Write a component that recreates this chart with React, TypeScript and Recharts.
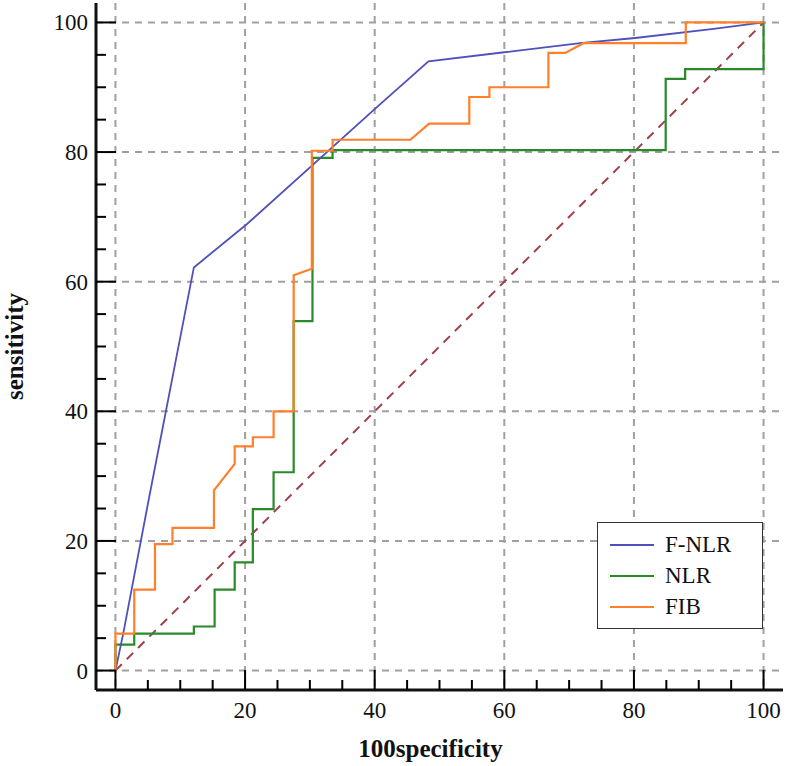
import React from "react";
import { LineChart, Line, XAxis, YAxis, CartesianGrid, Legend } from "recharts";

// ROC curves, [100-specificity, sensitivity]
const fnlrPoints = [
  [0, 0], [1.2, 5.7], [5.1, 26.2], [12.1, 62.2], [20.3, 68.9], [40.3, 86.9],
  [48.3, 94], [60, 95.4], [71.7, 96.8], [80.2, 97.6], [92.3, 99], [100, 100],
];

const nlrPoints = [
  [0, 0], [0, 4], [2.9, 4], [2.9, 5.7], [12.1, 5.7], [12.1, 6.8], [15.3, 6.8],
  [15.3, 12.5], [18.4, 12.5], [18.4, 16.7], [21.2, 16.7], [21.2, 24.9], [24.4, 24.9],
  [24.4, 30.6], [27.5, 30.6], [27.5, 53.9], [30.4, 53.9], [30.4, 79.1], [33.5, 79.1],
  [33.5, 80.3], [84.9, 80.3], [84.9, 91.3], [87.9, 91.3], [87.9, 92.8], [100, 92.8],
  [100, 100],
];

const fibPoints = [
  [0, 0], [0, 5.7], [2.9, 5.7], [2.9, 12.5], [6.1, 12.5], [6.1, 19.5], [8.8, 19.5],
  [8.8, 22], [15.2, 22], [15.2, 27.8], [18.4, 31.9], [18.4, 34.6], [21.2, 34.6],
  [21.2, 36], [24.4, 36], [24.4, 40], [27.5, 40], [27.5, 61], [30.3, 62], [30.3, 80.2],
  [33.5, 80.2], [33.5, 81.9], [45.5, 81.9], [48.4, 84.4], [54.6, 84.4], [54.6, 88.5],
  [57.7, 88.5], [57.7, 90], [66.8, 90], [66.8, 95.3], [69.4, 95.3], [72.2, 96.8],
  [88, 96.8], [88, 100], [100, 100],
];

const chancePoints = [[0, 0], [100, 100]];

const axisTicks = [0, 5, 10, 15, 20, 25, 30, 35, 40, 45, 50, 55, 60, 65, 70, 75, 80, 85, 90, 95, 100];
const gridValues = [0, 20, 40, 60, 80, 100];

const SERIF = '"Liberation Serif", "Times New Roman", serif';
const TICK_COLOR = "#000";

const toRows = (pts: number[][]) => pts.map(([x, y]) => ({ x, y }));

const legendItems = [
  { name: "F-NLR", color: "#5050bd" },
  { name: "NLR", color: "#2a8a2a" },
  { name: "FIB", color: "#ff7f2a" },
];

// ticks point into the plot: long ones carry a label, short ones every 5
function XTick(props: any) {
  const { x, y, payload } = props;
  const major = payload.value % 20 === 0;
  return (
    <g>
      <line x1={x} y1={y} x2={x} y2={y - (major ? 20 : 10)} stroke={TICK_COLOR} strokeWidth={2} />
      {major && (
        <text x={x} y={y + 28} textAnchor="middle" fontFamily={SERIF} fontSize={23} fill="#111">
          {payload.value}
        </text>
      )}
    </g>
  );
}

function YTick(props: any) {
  const { x, y, payload } = props;
  const major = payload.value % 20 === 0;
  return (
    <g>
      <line x1={x} y1={y} x2={x + (major ? 20 : 10)} y2={y} stroke={TICK_COLOR} strokeWidth={2} />
      {major && (
        <text x={x - 8} y={y + 8} textAnchor="end" fontFamily={SERIF} fontSize={23} fill="#111">
          {payload.value}
        </text>
      )}
    </g>
  );
}

function RocLegend() {
  return (
    <div
      style={{
        width: 166, height: 107, boxSizing: "border-box", border: "1.5px solid #333",
        background: "#fff", paddingTop: 6,
      }}
    >
      {legendItems.map((s) => (
        <div key={s.name} style={{ display: "flex", alignItems: "center", height: 31 }}>
          <span style={{ display: "inline-block", marginLeft: 12, width: 44, height: 2, background: s.color }} />
          <span style={{ marginLeft: 11, fontFamily: SERIF, fontSize: 23, lineHeight: "31px", color: "#111" }}>
            {s.name}
          </span>
        </div>
      ))}
    </div>
  );
}

export default function App() {
  return (
    <div style={{ position: "absolute", left: 0, top: 0, width: 787, height: 766, background: "#fff" }}>
      <LineChart width={787} height={766} margin={{ top: 3, right: 4, bottom: 0, left: 0 }}>
        <CartesianGrid
          stroke="#a0a0a0"
          strokeWidth={2}
          strokeDasharray="7 6"
          horizontalValues={gridValues}
          verticalValues={gridValues}
        />
        <XAxis
          dataKey="x"
          type="number"
          domain={[-3, 103]}
          allowDataOverflow
          ticks={axisTicks}
          interval={0}
          height={76}
          tickSize={0}
          tickMargin={0}
          tickLine={false}
          tick={<XTick />}
          axisLine={{ stroke: "#111", strokeWidth: 3 }}
          label={{
            content: ({ viewBox }: any) => (
              <text
                x={viewBox.x + viewBox.width / 2 - 9}
                y={viewBox.y + 67}
                textAnchor="middle"
                fontFamily={SERIF}
                fontWeight="bold"
                fontSize={25}
                fill="#111"
              >
                100specificity
              </text>
            ),
          }}
        />
        <YAxis
          type="number"
          domain={[-3, 103]}
          allowDataOverflow
          ticks={axisTicks}
          interval={0}
          width={96}
          tickSize={0}
          tickMargin={0}
          tickLine={false}
          tick={<YTick />}
          axisLine={{ stroke: "#111", strokeWidth: 3 }}
          label={{
            content: ({ viewBox }: any) => {
              const cx = viewBox.x + 23;
              const cy = viewBox.y + viewBox.height / 2;
              return (
                <text
                  x={cx}
                  y={cy}
                  transform={`rotate(-90 ${cx} ${cy})`}
                  textAnchor="middle"
                  fontFamily={SERIF}
                  fontWeight="bold"
                  fontSize={25}
                  fill="#111"
                >
                  sensitivity
                </text>
              );
            },
          }}
        />
        <Legend
          layout="horizontal"
          align="center"
          verticalAlign="middle"
          wrapperStyle={{ left: 597, top: 522, width: 166, height: 107 }}
          content={() => <RocLegend />}
        />
        <Line data={toRows(chancePoints)} dataKey="y" name="chance" type="linear" stroke="#a0404a"
          strokeWidth={2} strokeDasharray="9 7" dot={false} activeDot={false} legendType="none" isAnimationActive={false} />
        <Line data={toRows(nlrPoints)} dataKey="y" name="NLR" type="linear" stroke="#2a8a2a"
          strokeWidth={2.2} dot={false} activeDot={false} isAnimationActive={false} />
        <Line data={toRows(fnlrPoints)} dataKey="y" name="F-NLR" type="linear" stroke="#5050bd"
          strokeWidth={1.8} dot={false} activeDot={false} isAnimationActive={false} />
        <Line data={toRows(fibPoints)} dataKey="y" name="FIB" type="linear" stroke="#ff7f2a"
          strokeWidth={2.2} dot={false} activeDot={false} isAnimationActive={false} />
      </LineChart>
    </div>
  );
}
